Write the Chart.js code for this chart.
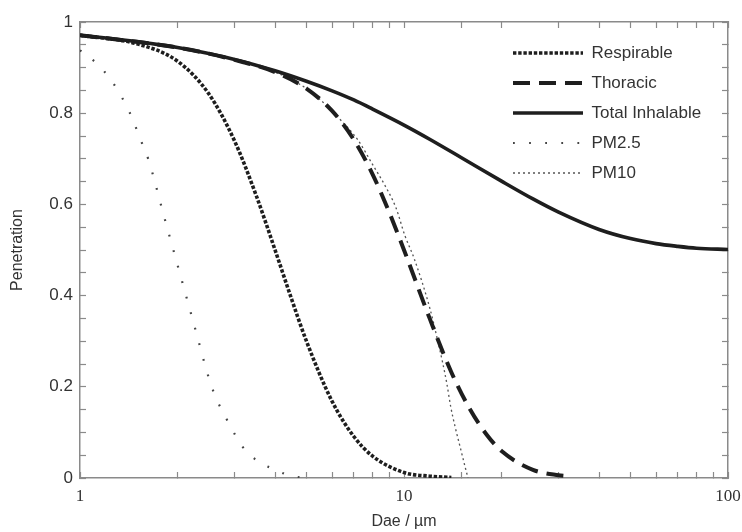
<!DOCTYPE html>
<html>
<head>
<meta charset="utf-8">
<script src="https://cdn.jsdelivr.net/npm/chart.js@4.4.1/dist/chart.umd.min.js"></script>
<style>
html,body{margin:0;padding:0;background:#fff;}
#wrap{width:742px;height:532px;}
</style>
</head>
<body>
<div id="wrap"><canvas id="c" width="742" height="532"></canvas></div>
<script>
// ---- tick labels ----
const xTickLabels = ['1', '10', '100'];
const yTickLabels = ['0', '0.2', '0.4', '0.6', '0.8', '1'];
const seriesNames = ['Respirable', 'Thoracic', 'Total Inhalable', 'PM2.5', 'PM10'];

// ---- series (Dae in µm, penetration fraction) ----
const respirableD = [1, 1.5, 2, 2.5, 3, 3.5, 4, 4.5, 5, 6, 7, 8, 10, 12, 14];
const respirableV = [0.971, 0.952, 0.914, 0.842, 0.739, 0.619, 0.500, 0.392, 0.300, 0.168, 0.091, 0.048, 0.012, 0.004, 0.001];

const thoracicD = [1, 2, 3, 4, 5, 6, 7, 8, 9, 10, 12, 14, 16, 18, 20, 25, 30, 32];
const thoracicV = [0.971, 0.944, 0.917, 0.890, 0.854, 0.805, 0.742, 0.666, 0.583, 0.500, 0.350, 0.232, 0.150, 0.095, 0.059, 0.018, 0.006, 0.004];

const inhalableD = [1, 1.5, 2, 3, 4, 5, 6, 7, 8, 10, 12, 15, 20, 25, 30, 40, 50, 60, 70, 80, 100];
const inhalableV = [0.971, 0.957, 0.944, 0.918, 0.893, 0.870, 0.849, 0.829, 0.809, 0.774, 0.743, 0.703, 0.651, 0.612, 0.583, 0.545, 0.525, 0.514, 0.508, 0.504, 0.501];

const pm25D = [1, 1.134, 1.246, 1.341, 1.42, 1.489, 1.554, 1.625, 1.812, 2.024, 2.26, 2.519, 2.634, 2.783, 2.945, 3.162, 3.518, 3.976, 4.37, 4.88];
const pm25V = [0.938, 0.907, 0.873, 0.837, 0.803, 0.768, 0.734, 0.699, 0.577, 0.454, 0.331, 0.211, 0.174, 0.140, 0.107, 0.070, 0.038, 0.019, 0.007, 0];

const pm10D = [1, 2, 3, 4, 5, 6, 6.30, 7.21, 8.02, 8.68, 9.45, 10.07, 10.74, 12.03, 12.69, 13.15, 13.55, 13.94, 14.37, 14.89, 15.43, 15.76];
const pm10V = [0.971, 0.944, 0.917, 0.890, 0.854, 0.805, 0.789, 0.741, 0.686, 0.645, 0.592, 0.531, 0.482, 0.371, 0.303, 0.254, 0.208, 0.156, 0.113, 0.069, 0.025, 0];

function pts(D, V) { return D.map((d, i) => ({ x: d, y: V[i] })); }

const TEXT = '#333';
const AXIS = '#8a8a8a';
const LINE = '#1e1e1e';

const datasets = [
  { label: seriesNames[0], data: pts(respirableD, respirableV), borderColor: LINE, borderWidth: 3.6, borderDash: [3.4, 1.8] },
  { label: seriesNames[1], data: pts(thoracicD, thoracicV), borderColor: LINE, borderWidth: 4, borderDash: [17, 9] },
  { label: seriesNames[2], data: pts(inhalableD, inhalableV), borderColor: LINE, borderWidth: 3.6, borderDash: [] },
  { label: seriesNames[3], data: pts(pm25D, pm25V), borderColor: '#444', borderWidth: 2.2, borderDash: [1.8, 14.3] },
  { label: seriesNames[4], data: pts(pm10D, pm10V), borderColor: '#555', borderWidth: 1.3, borderDash: [2, 3] }
].map(ds => Object.assign(ds, { pointRadius: 0, fill: false, cubicInterpolationMode: 'monotone', borderCapStyle: 'butt' }));

function xLabel(v) {
  const e = Math.log10(v);
  const r = Math.round(e);
  return Math.abs(e - r) < 1e-9 ? xTickLabels[r] : '';
}
function yLabel(v) {
  const i = Math.round(v / 0.2);
  return Math.abs(v - i * 0.2) < 1e-6 ? yTickLabels[i] : '';
}

const legendPlacer = {
  id: 'legendPlacer',
  afterLayout(chart) {
    const lg = chart.legend, ca = chart.chartArea;
    if (!lg) return;
    lg.left = ca.right - 228;
    lg.right = lg.left + lg.width;
    lg.top = ca.top + 9.5;
    lg.bottom = ca.bottom;
  }
};

const tickGrid = { drawOnChartArea: false, tickLength: -6, color: AXIS, tickWidth: 1.2 };
const border = { color: AXIS, width: 1.5 };
function noPad(s) { s.paddingLeft = 0; s.paddingRight = 0; s.paddingTop = 0; s.paddingBottom = 0; }

new Chart(document.getElementById('c'), {
  type: 'line',
  data: { datasets },
  options: {
    responsive: false,
    animation: false,
    devicePixelRatio: 1,
    layout: { padding: { left: 0, right: 14, top: 22, bottom: 0 } },
    plugins: {
      tooltip: { enabled: false },
      legend: {
        position: 'chartArea',
        align: 'start',
        labels: {
          usePointStyle: true,
          pointStyleWidth: 70,
          padding: 13,
          color: TEXT,
          font: { family: 'Liberation Sans', size: 17 },
          generateLabels(chart) {
            return chart.data.datasets.map((ds, i) => ({
              text: ds.label,
              fillStyle: 'rgba(0,0,0,0)',
              strokeStyle: ds.borderColor,
              lineWidth: ds.borderWidth,
              lineDash: ds.borderDash,
              lineCap: 'butt',
              pointStyle: 'line',
              fontColor: TEXT,
              hidden: false,
              datasetIndex: i
            }));
          }
        }
      }
    },
    scales: {
      x: {
        type: 'logarithmic', position: 'bottom', min: 1, max: 100,
        afterFit(s) { s.height = 54; noPad(s); },
        border, grid: tickGrid,
        ticks: { autoSkip: false, maxRotation: 0, padding: 14.5, color: TEXT,
                 font: { family: 'Liberation Serif', size: 17 }, callback: xLabel },
        title: { display: true, text: 'Dae / µm', color: TEXT,
                 font: { family: 'Liberation Sans', size: 16 }, padding: { top: 0, bottom: 1 } }
      },
      x2: {
        type: 'logarithmic', position: 'top', min: 1, max: 100,
        afterFit(s) { s.height = 0; noPad(s); },
        border, grid: tickGrid,
        ticks: { display: false, autoSkip: false }
      },
      y: {
        type: 'linear', position: 'left', min: 0, max: 1,
        afterFit(s) { s.width = 80; noPad(s); },
        border, grid: tickGrid,
        ticks: { stepSize: 0.05, autoSkip: false, padding: 13, color: TEXT,
                 font: { family: 'Liberation Sans', size: 17 }, callback: yLabel },
        title: { display: true, text: 'Penetration', color: TEXT,
                 font: { family: 'Liberation Sans', size: 16 }, padding: { top: 8.4, bottom: 0 } }
      },
      y2: {
        type: 'linear', position: 'right', min: 0, max: 1,
        afterFit(s) { s.width = 0; noPad(s); },
        border, grid: tickGrid,
        ticks: { display: false, stepSize: 0.05, autoSkip: false }
      }
    }
  },
  plugins: [legendPlacer]
});
</script>
</body>
</html>
